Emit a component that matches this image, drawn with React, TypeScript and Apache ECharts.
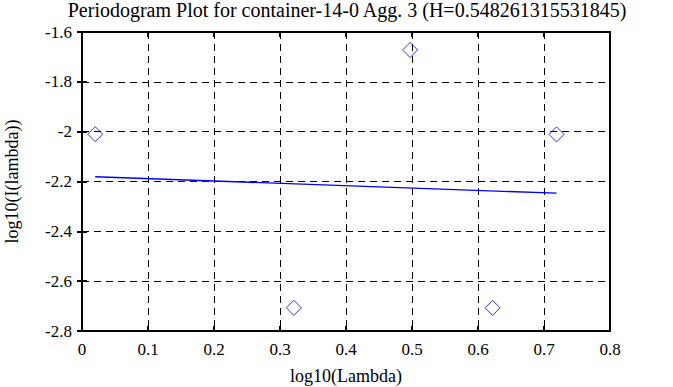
import React, { useEffect, useRef } from "react";
import * as echarts from "echarts";

const titleText = "Periodogram Plot for container-14-0 Agg. 3 (H=0.548261315531845)";
const xName = "log10(Lambda)";
const yName = "log10(I(lambda))";
const pointX = [0.02, 0.321, 0.4971, 0.6221, 0.719];
const pointY = [-2.01, -2.707, -1.672, -2.707, -2.011];
const fitX = [0.02, 0.719];
const fitY = [-2.181, -2.247];

const FONT = "'Liberation Serif', 'DejaVu Serif', serif";

export default function App() {
  const ref = useRef<HTMLDivElement>(null);
  useEffect(() => {
    if (!ref.current) return;
    const chart = echarts.init(ref.current, null, { renderer: "svg" });
    const axisCommon = {
      type: "value" as const,
      axisLine: { show: false },
      axisTick: { show: true, inside: true, length: 5, lineStyle: { color: "#000", width: 2 } },
    };
    chart.setOption({
      animation: false,
      backgroundColor: "#fff",
      title: {
        text: titleText,
        left: 347,
        textAlign: "center",
        top: 0,
        padding: 0,
        textStyle: { fontFamily: FONT, fontSize: 20, fontWeight: "normal", color: "#000" },
      },
      grid: {
        left: 82,
        right: 63,
        top: 32,
        bottom: 56,
        containLabel: false,
        outerBoundsMode: "none",
        show: true,
        borderColor: "#000",
        borderWidth: 2,
        backgroundColor: "transparent",
      },
      xAxis: [
        {
          ...axisCommon,
          position: "bottom",
          min: 0,
          max: 0.8,
          interval: 0.1,
          name: xName,
          nameLocation: "middle",
          nameGap: 36,
          nameTextStyle: { fontFamily: FONT, fontSize: 18, color: "#000" },
          axisLabel: {
            fontFamily: FONT,
            fontSize: 17,
            color: "#000",
            margin: 10,
            formatter: (v: number) => (v === 0 ? "0" : v.toFixed(1)),
          },
          splitLine: { show: true, lineStyle: { color: "#000", width: 1, type: [7, 5] } },
        },
        {
          ...axisCommon,
          position: "top",
          min: 0,
          max: 0.8,
          interval: 0.1,
          axisLabel: { show: false },
          splitLine: { show: false },
        },
      ],
      yAxis: [
        {
          ...axisCommon,
          position: "left",
          min: -2.8,
          max: -1.6,
          interval: 0.2,
          name: yName,
          nameLocation: "middle",
          nameGap: 61,
          nameRotate: 90,
          nameTextStyle: { fontFamily: FONT, fontSize: 18, color: "#000" },
          axisLabel: {
            fontFamily: FONT,
            fontSize: 17,
            color: "#000",
            margin: 10,
            formatter: (v: number) => String(Math.round(v * 10) / 10),
          },
          splitLine: { show: true, lineStyle: { color: "#000", width: 1, type: [7, 5] } },
        },
        {
          ...axisCommon,
          position: "right",
          min: -2.8,
          max: -1.6,
          interval: 0.2,
          axisLabel: { show: false },
          splitLine: { show: false },
        },
      ],
      series: [
        {
          type: "scatter",
          xAxisIndex: 0,
          yAxisIndex: 0,
          symbol: "diamond",
          symbolSize: 15,
          itemStyle: { color: "transparent", borderColor: "#0000ff", borderWidth: 1 },
          data: pointX.map((x, i) => [x, pointY[i]]),
        },
        {
          type: "line",
          xAxisIndex: 0,
          yAxisIndex: 0,
          showSymbol: false,
          symbol: "none",
          lineStyle: { color: "#0000ff", width: 1.3 },
          data: fitX.map((x, i) => [x, fitY[i]]),
        },
      ],
    });
    return () => chart.dispose();
  }, []);
  return (
    <div
      ref={ref}
      style={{ position: "fixed", left: 0, top: 0, width: 673, height: 387, background: "#fff" }}
    />
  );
}
